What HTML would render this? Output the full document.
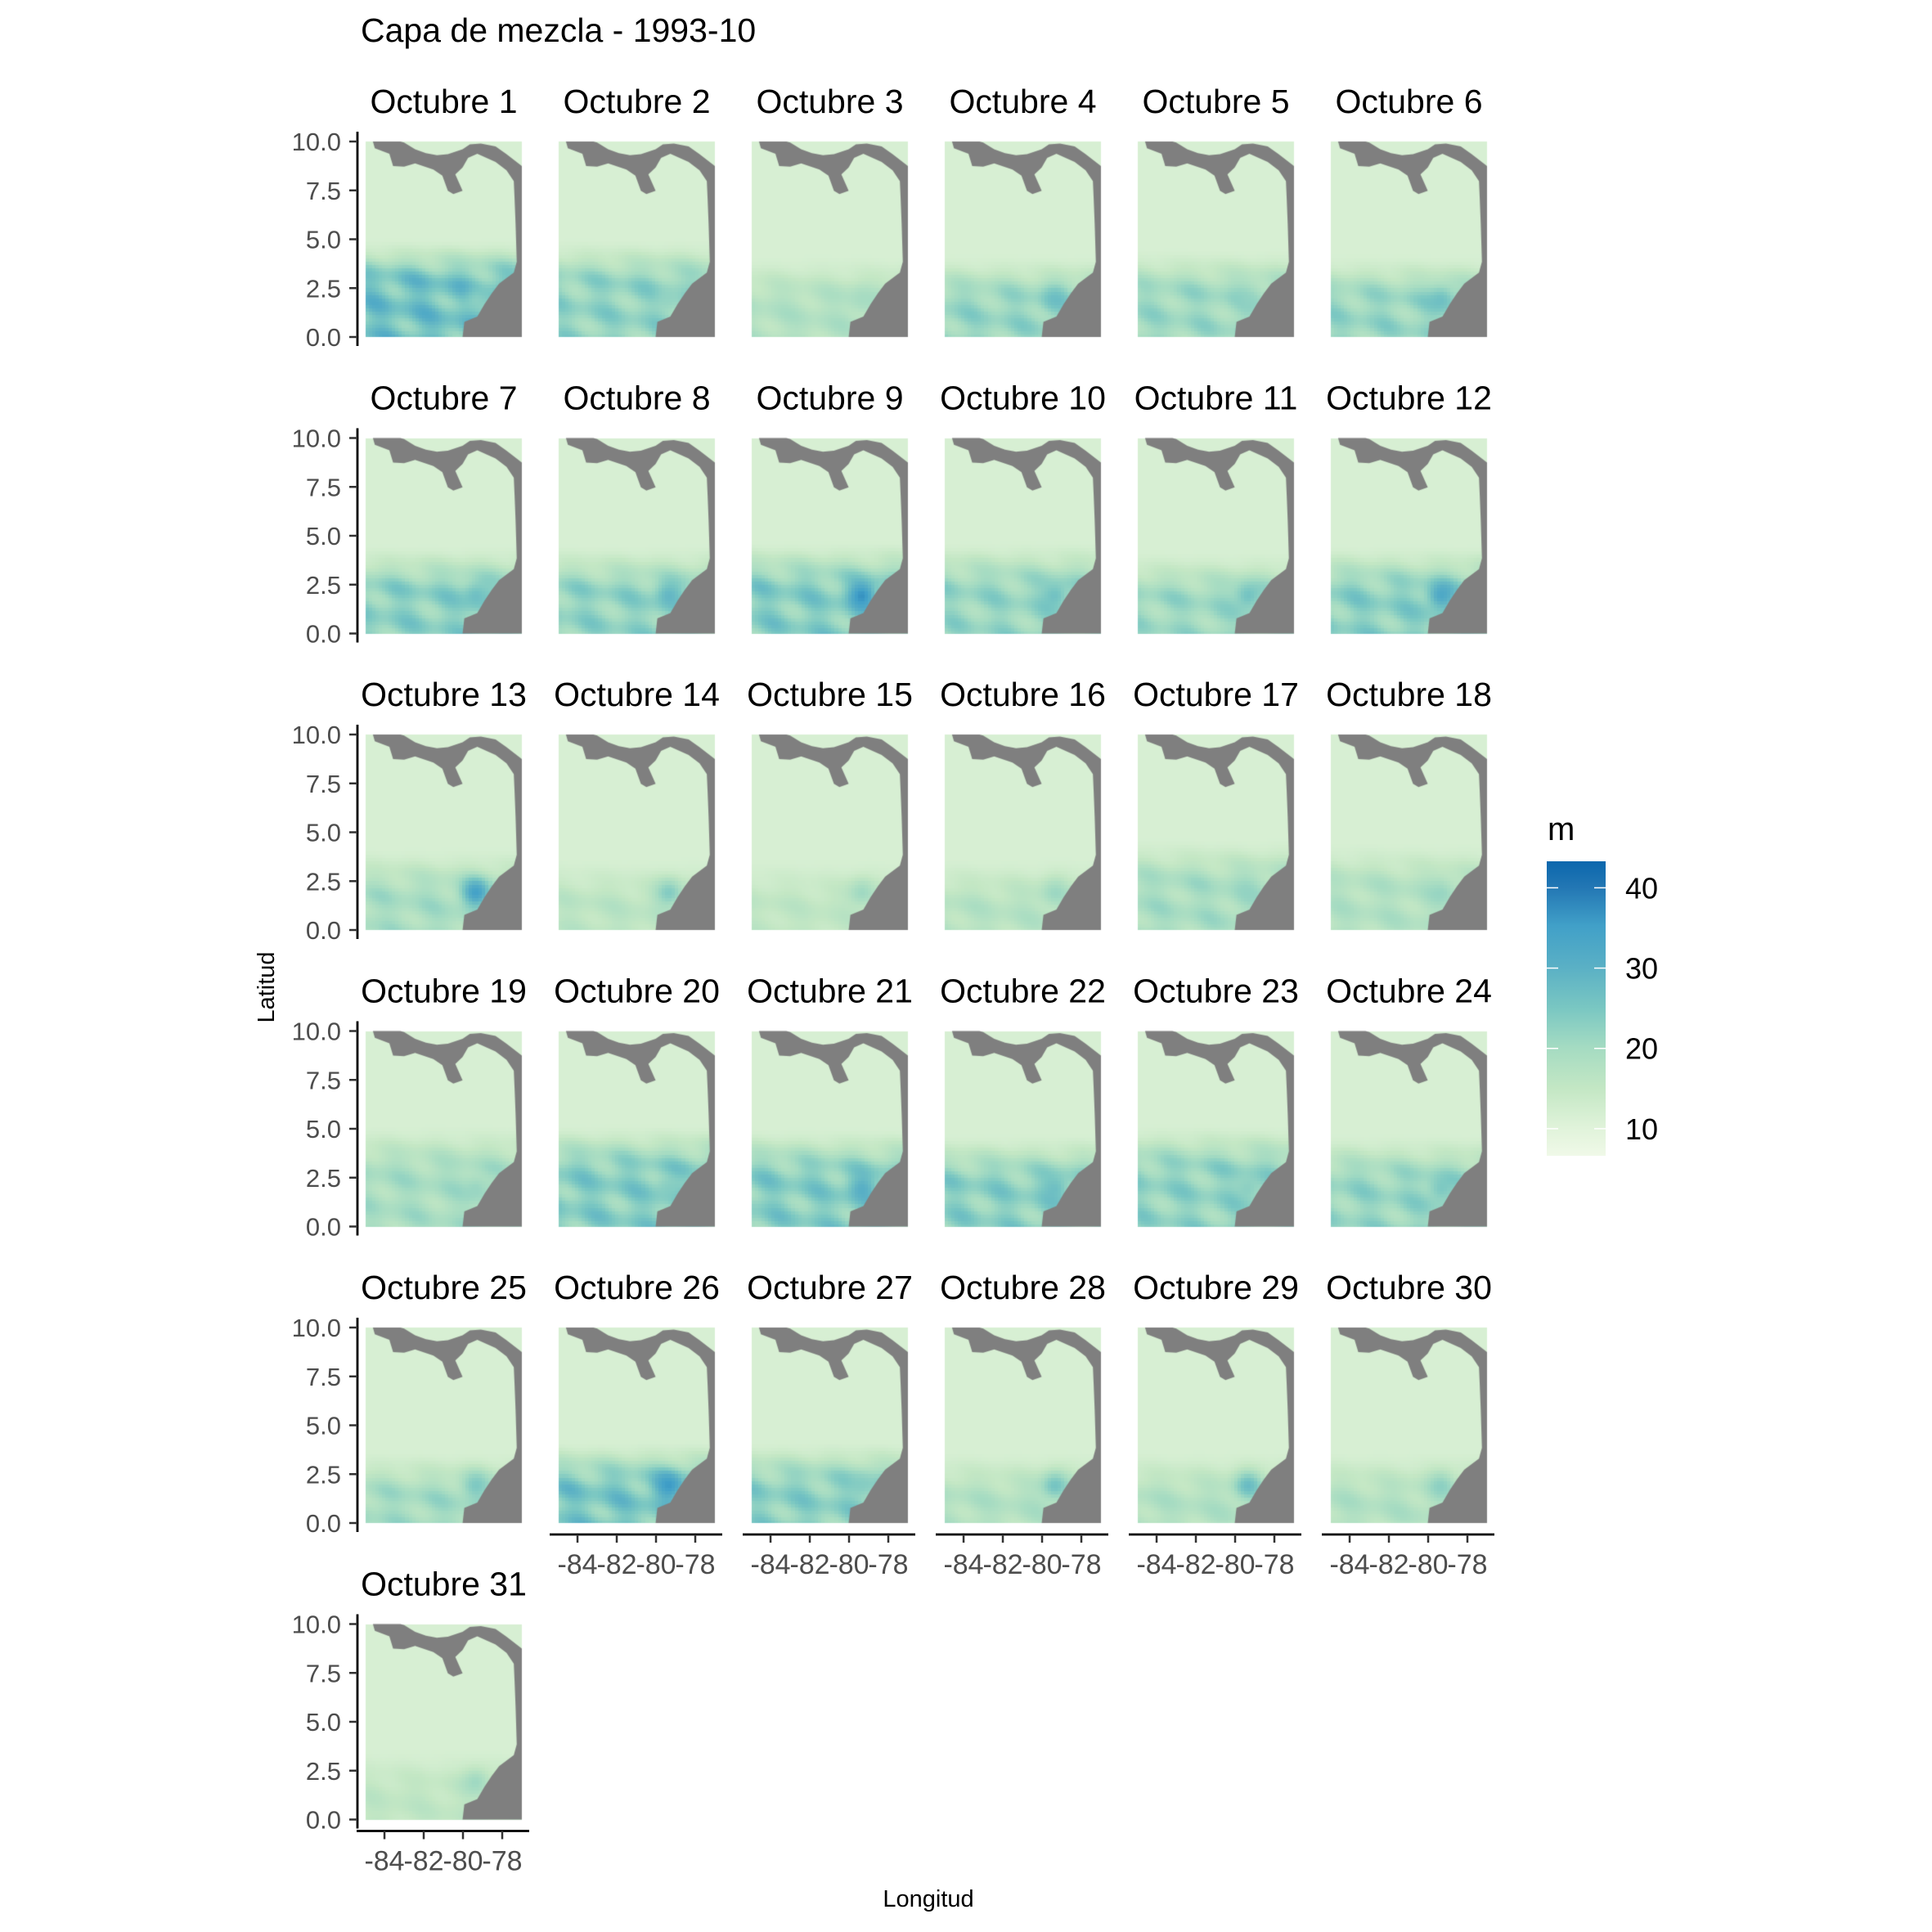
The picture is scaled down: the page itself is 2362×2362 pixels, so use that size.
<!DOCTYPE html>
<html><head><meta charset="utf-8">
<style>
html,body{margin:0;padding:0;background:#fff;}
#wrap{position:relative;width:2362px;height:2362px;overflow:hidden;}
canvas,svg{position:absolute;left:0;top:0;}
text{font-family:"Liberation Sans",Arial,sans-serif;}
</style></head>
<body>
<div id="wrap">
<canvas id="cv" width="2362" height="2362"></canvas>
<svg id="sv" width="2362" height="2362" xmlns="http://www.w3.org/2000/svg">
<defs><linearGradient id="lg" x1="0" y1="1" x2="0" y2="0">
<stop offset="0" stop-color="#f0f9e8"/><stop offset="0.095" stop-color="#e0f3da"/>
<stop offset="0.23" stop-color="#c3e7c4"/><stop offset="0.37" stop-color="#a4dbc2"/>
<stop offset="0.50" stop-color="#7ac7c2"/><stop offset="0.64" stop-color="#5ab0c5"/>
<stop offset="0.78" stop-color="#41a0c8"/><stop offset="0.91" stop-color="#2377b4"/>
<stop offset="1" stop-color="#0b67ad"/></linearGradient></defs>
<text x="441" y="51" font-size="41" fill="#000">Capa de mezcla - 1993-10</text>
<text x="0" y="0" font-size="29" fill="#000" text-anchor="middle" transform="translate(335,1207) rotate(-90)">Latitud</text>
<text x="1135" y="2343" font-size="29" fill="#000" text-anchor="middle" transform="translate(0,-12)">Longitud</text>
<g>
<text x="1892" y="1027" font-size="40" fill="#000">m</text>
<rect x="1891" y="1053" width="72" height="360" fill="url(#lg)"/>
<g id="legTicks"></g>
</g>
<g id="panels"></g>
</svg>
</div>
<script>
// ---- data ----
const days = [1,2,3,4,5,6,7,8,9,10,11,12,13,14,15,16,17,18,19,20,21,22,23,24,25,26,27,28,29,30,31];
const southPeak = [32,26,20,25,24,25,27,26,28,25,24,27,22,18,17,19,22,20,22,28,28,27,26,25,23,30,27,20,20,20,17];
const bandEdge  = [4.3,4.3,3.5,3.5,3.8,3.5,3.8,3.8,4,4,3.5,3.8,3.5,3,3,3,4,3.8,4.5,4.5,4.3,4,4.5,4,3,3.5,3.5,3,3,3,3];
const coastPeak = [22,22,20,28,22,28,28,30,40,28,28,35,38,26,22,22,22,22,22,24,32,28,24,26,26,38,24,28,30,24,22];
const yTicks = [0,2.5,5,7.5,10];
const yTickLabels = ["0.0","2.5","5.0","7.5","10.0"];
const xTicks = [-84,-82,-80,-78];
const xTickLabels = ["-84","-82","-80","-78"];
const legendTicks = [10,20,30,40];
const landLon = [-84.59,-84.49,-83.75,-83.56,-83.0,-82.44,-81.51,-81.05,-80.77,-80.49,-80.02,-80.39,-80.02,-79.74,-79.27,-78.34,-77.78,-77.41,-77.37,-77.32,-77.26,-77.41,-78.16,-78.53,-78.90,-79.27,-79.93,-80.02,-77,-77,-77.78,-78.34,-79.09,-79.65,-80.02,-80.77,-81.33,-81.89,-82.44,-83.0,-83.19];
const landLat = [10,9.65,9.37,8.74,8.71,8.88,8.57,8.25,7.48,7.31,7.48,8.32,8.67,9.16,9.37,8.95,8.53,7.97,7.06,5.80,3.85,3.29,2.73,2.24,1.68,1.05,0.77,0,0,8.75,9.35,9.75,9.9,9.85,9.6,9.35,9.3,9.4,9.6,9.95,10];

// ---- layout ----
const colX0 = 447, colPitch = 236, pw = 191;
const rowY0 = 173, rowPitch = 362.5, ph = 239;
const lonMin = -84.96, lonMax = -77.0, latMin = 0, latMax = 10;
const NS = "http://www.w3.org/2000/svg";
const stops = [[6.6,[240,249,232]],[10,[224,243,218]],[15,[195,231,196]],[20,[164,219,194]],[25,[122,199,194]],[30,[90,176,197]],[35,[65,160,200]],[40,[35,119,180]],[43.3,[11,103,173]]];
function colorOf(v){
  if(v<=stops[0][0]) return stops[0][1];
  for(let i=1;i<stops.length;i++){ if(v<=stops[i][0]){const a=stops[i-1],b=stops[i];const t=(v-a[0])/(b[0]-a[0]);return [0,1,2].map(k=>Math.round(a[1][k]+(b[1][k]-a[1][k])*t));}}
  return stops[stops.length-1][1];
}
function mk(tag,attrs,parent){const e=document.createElementNS(NS,tag);for(const k in attrs)e.setAttribute(k,attrs[k]);parent.appendChild(e);return e;}
const ctx = document.getElementById('cv').getContext('2d');
const panelsG = document.getElementById('panels');

const legY = v => 1413 - (v-6.63)/(43.3-6.63)*360;
const lt = document.getElementById('legTicks');
legendTicks.forEach(v=>{
  const y=legY(v);
  const a=mk('line',{x1:1891,x2:1905,y1:y,y2:y,stroke:'#fff','stroke-width':1.5},lt);
  
  
  const b=mk('line',{x1:1949,x2:1963,y1:y,y2:y,stroke:'#fff','stroke-width':1.5},lt);
  
  
  const t=mk('text',{x:1987,y:y+13,'font-size':36,fill:'#000'},lt);
  t.textContent=v;
  
  
});

days.forEach((d,i)=>{
  const c=i%6, r=Math.floor(i/6);
  const px=colX0+c*colPitch, py=rowY0+r*rowPitch;
  const X=lon=>px+(lon-lonMin)/(lonMax-lonMin)*pw;
  const Y=lat=>py+(latMax-lat)/(latMax-latMin)*ph;
  const step=0.17;
  for(let lon=lonMin;lon<lonMax;lon+=step){
    for(let lat=latMin;lat<latMax;lat+=step){
      const edge=bandEdge[i]+0.8;
      let band=Math.min(1,Math.max(0,(edge-lat)/2.6));
      band=band*band*(3-2*band);
      const tex=0.72+0.28*Math.sin(lon*1.7+lat*2.3+i)*Math.cos(lon*0.9-lat*1.4+i*0.5);
      let v=11.5+(southPeak[i]-11.5)*band*tex;
      const dl=lon+79.4, dt=lat-1.9;
      v+= (coastPeak[i]-Math.max(v,11))*Math.max(0,Math.exp(-(dl*dl+dt*dt)/0.5))*0.8;
      const col=colorOf(v);
      ctx.fillStyle='rgb('+col[0]+','+col[1]+','+col[2]+')';
      const x0=X(lon), y0=Y(lat+step);
      ctx.fillRect(Math.floor(x0),Math.floor(y0),Math.ceil(X(lon+step)-x0)+1,Math.ceil(Y(lat)-y0)+1);
    }
  }
  ctx.clearRect(px+pw,py-2,20,ph+4);
  ctx.clearRect(px-2,py-20,pw+4,20);
  ctx.clearRect(px-2,py+ph,pw+4,20);
  ctx.fillStyle='#7f7f7f';
  ctx.beginPath();
  landLon.forEach((lo,k)=>{const x=X(lo),y=Y(landLat[k]);if(k===0)ctx.moveTo(x,y);else ctx.lineTo(x,y);});
  ctx.closePath();ctx.fill();

  const g=mk('g',{},panelsG);
  
  
  const st=mk('text',{x:px+pw/2,y:py-35,'font-size':41,fill:'#000','text-anchor':'middle'},g);
  st.textContent='Octubre '+d;
  
  
  if(c===0){
    const ax=mk('line',{x1:px-10,x2:px-10,y1:py-12,y2:py+ph+11,stroke:'#000','stroke-width':2.8},g);
    
    
    yTicks.forEach((v,k)=>{
      const y=Y(v);
      const tk=mk('line',{x1:px-20,x2:px-10,y1:y,y2:y,stroke:'#333','stroke-width':2.5},g);
      
      
      const tl=mk('text',{x:px-30,y:y+11,'font-size':31,fill:'#4d4d4d','text-anchor':'end'},g);
      tl.textContent=yTickLabels[k];
      
      
    });
  }
  const hasX = (r===4 && c>0) || r===5;
  if(hasX){
    const ay=py+ph+14;
    const ax=mk('line',{x1:px-11,x2:px+pw+9,y1:ay,y2:ay,stroke:'#000','stroke-width':2.8},g);
    
    
    xTicks.forEach((v,k)=>{
      const x=X(v);
      const tk=mk('line',{x1:x,x2:x,y1:ay,y2:ay+10,stroke:'#333','stroke-width':2.5},g);
      
      
      const tl=mk('text',{x:x,y:ay+48,'font-size':34,fill:'#4d4d4d','text-anchor':'middle'},g);
      tl.textContent=xTickLabels[k];
      
      
    });
  }
});
</script>
</body></html>
